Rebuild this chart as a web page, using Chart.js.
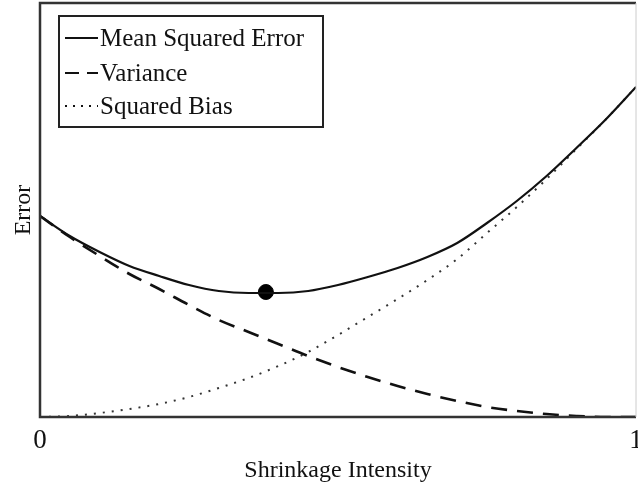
<!DOCTYPE html>
<html>
<head>
<meta charset="utf-8">
<script src="https://cdn.jsdelivr.net/npm/chart.js@4"></script>
<style>
  body { margin: 0; background: #fff; }
  #wrap { width: 638px; height: 497px; }
</style>
</head>
<body>
<div id="wrap"><canvas id="chart" width="638" height="497"></canvas></div>
<script>
// shrinkage intensity (0..1) and error curves
const shrinkage = [0, 0.05, 0.1, 0.15, 0.2, 0.25, 0.3, 0.35, 0.4, 0.45, 0.5, 0.55, 0.6, 0.65, 0.7, 0.75, 0.8, 0.85, 0.9, 0.95, 1.0];
const mse      = [201, 181, 165, 151, 141, 132, 126, 124, 124, 126, 132, 140, 149, 160, 174, 194, 216, 241, 269, 298, 330];
const variance = [201, 180, 161, 143, 128, 112, 97, 85, 73, 61, 50, 40, 31, 23, 16, 10, 6, 3, 1, 0, 0];
const bias     = [0, 1, 4, 8, 13, 20, 29, 39, 51, 65, 82, 100, 118, 137, 158, 184, 210, 238, 268, 298, 330];
const optimum = [{ x: 0.379, y: 125 }];
const xTicks = [0, 1];
const legendLabels = ["Mean Squared Error", "Variance", "Squared Bias"];

const SERIF = "'Liberation Serif', 'DejaVu Serif', serif";
const INK = "#111";

function pts(ys) {
  return shrinkage.map((x, i) => ({ x, y: ys[i] }));
}

function noPad(s) {
  s.paddingLeft = 0; s.paddingRight = 0; s.paddingTop = 0; s.paddingBottom = 0;
}

// frame around the plot + legend box in the upper-left corner
const framePlugin = {
  id: "frame",
  afterDraw(chart) {
    const { ctx, chartArea: a } = chart;
    ctx.save();
    ctx.strokeStyle = "#333";
    ctx.lineWidth = 2.5;
    ctx.beginPath();
    ctx.moveTo(a.right, a.top);
    ctx.lineTo(a.left, a.top);
    ctx.lineTo(a.left, a.bottom);
    ctx.lineTo(a.right, a.bottom);
    ctx.stroke();
    ctx.strokeStyle = "#ccc";
    ctx.lineWidth = 1;
    ctx.beginPath();
    ctx.moveTo(a.right, a.top);
    ctx.lineTo(a.right, a.bottom);
    ctx.stroke();

    // legend
    const bx = 59, by = 16, bw = 264, bh = 111;
    ctx.fillStyle = "#fff";
    ctx.fillRect(bx, by, bw, bh);
    ctx.strokeStyle = "#222";
    ctx.lineWidth = 2;
    ctx.strokeRect(bx, by, bw, bh);

    const rows = [38, 73, 106];
    const dashes = [[], [14, 8], [2, 6]];
    ctx.strokeStyle = INK;
    for (let i = 0; i < 3; i++) {
      ctx.setLineDash(dashes[i]);
      ctx.lineWidth = 2;
      ctx.beginPath();
      ctx.moveTo(65, rows[i]);
      ctx.lineTo(98, rows[i]);
      ctx.stroke();
    }
    ctx.setLineDash([]);
    ctx.fillStyle = INK;
    ctx.font = "25px " + SERIF;
    ctx.textBaseline = "middle";
    legendLabels.forEach((t, i) => ctx.fillText(t, 100, rows[i] + 1));
    ctx.restore();
  }
};

new Chart(document.getElementById("chart"), {
  type: "scatter",
  data: {
    datasets: [
      {
        label: legendLabels[0],
        data: pts(mse),
        showLine: true,
        borderColor: INK,
        borderWidth: 2.2,
        pointRadius: 0,
        cubicInterpolationMode: "monotone",
      },
      {
        label: legendLabels[1],
        data: pts(variance),
        showLine: true,
        borderColor: INK,
        borderWidth: 2.6,
        borderDash: [16, 10],
        pointRadius: 0,
        cubicInterpolationMode: "monotone",
      },
      {
        label: legendLabels[2],
        data: pts(bias),
        showLine: true,
        borderColor: "#333",
        borderWidth: 2,
        borderDash: [2, 7],
        pointRadius: 0,
        cubicInterpolationMode: "monotone",
      },
      {
        label: "min",
        data: optimum,
        pointRadius: 7.5,
        pointBackgroundColor: "#000",
        pointBorderColor: "#000",
      },
    ],
  },
  options: {
    responsive: false,
    animation: false,
    layout: { autoPadding: false, padding: { top: 3, right: 2, left: 0, bottom: 0 } },
    plugins: {
      legend: { display: false },
      tooltip: { enabled: false },
    },
    scales: {
      x: {
        type: "linear",
        min: 0,
        max: 1,
        afterBuildTicks: s => { s.ticks = xTicks.map(v => ({ value: v })); },
        afterFit: s => { s.height = 80; noPad(s); },
        grid: { display: false, drawTicks: false },
        border: { display: false },
        ticks: { color: INK, padding: 8, font: { family: SERIF, size: 27 } },
        title: {
          display: true,
          text: "Shrinkage Intensity",
          color: INK,
          font: { family: SERIF, size: 24 },
          padding: { top: 0, bottom: 12 },
        },
      },
      y: {
        min: 0,
        max: 414,
        afterFit: s => { s.width = 40; noPad(s); },
        grid: { display: false },
        border: { display: false },
        ticks: { display: false },
        title: {
          display: true,
          text: "Error",
          color: INK,
          font: { family: SERIF, size: 24 },
          padding: { top: 9, bottom: 0 },
        },
      },
    },
  },
  plugins: [framePlugin],
});
</script>
</body>
</html>
